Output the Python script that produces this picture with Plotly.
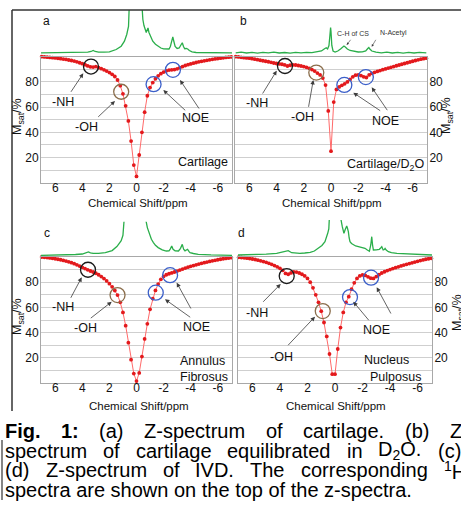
import re
import plotly.graph_objects as go

W, H = 461, 508
FONT = "Liberation Sans, Arial, sans-serif"

# ---------------- data ----------------
OFFSETS = [7.0, 6.8, 6.6, 6.4, 6.2, 6.0, 5.8, 5.6, 5.4, 5.2, 5.0, 4.8, 4.6, 4.4, 4.2, 4.0,
           3.8, 3.6, 3.4, 3.2, 3.0, 2.8, 2.6, 2.4, 2.2, 2.0, 1.8, 1.6, 1.4, 1.2, 1.0, 0.8,
           0.6, 0.4, 0.2, 0.0, -0.2, -0.4, -0.6, -0.8, -1.0, -1.2, -1.4, -1.6, -1.8, -2.0,
           -2.2, -2.4, -2.6, -2.8, -3.0, -3.2, -3.4, -3.6, -3.8, -4.0, -4.2, -4.4, -4.6,
           -4.8, -5.0, -5.2, -5.4, -5.6, -5.8, -6.0, -6.2, -6.4, -6.6, -6.8, -7.0]

Z_A = [100, 99.8, 99.6, 99.4, 99.2, 99.0, 98.7, 98.4, 98.1, 97.8, 97.4, 97.0, 96.5, 95.9,
       95.2, 94.5, 93.6, 92.7, 92.0, 91.8, 92.2, 91.4, 90.5, 89.6, 88.6, 87.4, 86.0, 84.3,
       81.5, 77.0, 70.5, 61.0, 49.0, 33.0, 14.0, 5.0, 22.0, 40.0, 56.0, 69.0, 75.5, 79.5,
       82.5, 84.8, 86.5, 87.8, 88.8, 89.4, 89.6, 89.8, 90.4, 91.3, 92.2, 93.0, 93.7, 94.3,
       94.9, 95.4, 95.9, 96.3, 96.7, 97.1, 97.5, 97.9, 98.2, 98.5, 98.8, 99.1, 99.4, 99.6, 99.8]

Z_B = [100, 99.8, 99.5, 99.2, 99.0, 98.8, 98.4, 98.0, 97.6, 97.2, 96.8, 96.4, 96.0, 95.5,
       95.0, 94.6, 94.3, 94.0, 93.5, 92.6, 93.2, 93.5, 93.4, 93.0, 92.6, 92.2, 91.6, 90.8,
       89.8, 88.6, 87.0, 85.5, 83.0, 77.5, 57.0, 25.0, 64.0, 74.0, 76.0, 77.3, 78.5, 80.0,
       82.0, 84.0, 85.3, 85.6, 85.0, 84.0, 83.5, 85.5, 86.8, 87.6, 88.3, 89.0, 89.7, 90.3,
       91.0, 91.6, 92.2, 92.8, 93.4, 94.0, 94.6, 95.2, 95.8, 96.4, 97.0, 97.5, 98.0, 98.4, 98.8]

Z_C = [100, 99.8, 99.6, 99.3, 99.0, 98.6, 98.2, 97.8, 97.3, 96.8, 96.2, 95.5, 94.7, 93.8,
       92.8, 91.8, 90.8, 89.8, 88.9, 88.1, 87.1, 85.9, 84.5, 82.9, 81.0, 78.8, 76.3, 73.4,
       69.8, 64.0, 56.0, 45.5, 32.0, 18.5, 7.5, 1.5, 8.0, 21.0, 35.0, 47.0, 58.5, 67.0,
       73.5, 78.5, 82.3, 84.6, 85.9, 86.7, 87.4, 88.1, 88.8, 89.6, 90.4, 91.2, 91.9, 92.6,
       93.2, 93.8, 94.4, 95.0, 95.5, 96.0, 96.5, 97.0, 97.4, 97.8, 98.2, 98.6, 98.9, 99.2, 99.5]

Z_D = [99.8, 99.6, 99.4, 99.1, 98.8, 98.4, 98.0, 97.5, 97.0, 96.4, 95.8, 95.0, 94.2, 93.2,
       92.2, 91.0, 89.4, 87.0, 86.3, 87.4, 88.2, 88.0, 87.3, 86.3, 85.0, 83.0, 80.0, 75.5,
       70.0, 64.0, 57.0, 48.0, 37.0, 23.0, 7.0, 7.0, 27.0, 44.0, 56.0, 64.0, 68.5, 74.5,
       79.5, 83.0, 85.0, 85.8, 85.4, 84.3, 83.2, 83.0, 84.5, 86.0, 87.3, 88.3, 89.2, 90.0,
       90.8, 91.5, 92.2, 92.9, 93.6, 94.2, 94.8, 95.4, 96.0, 96.6, 97.2, 97.7, 98.2, 98.6, 99.0]

# 1H NMR spectra (ppm, relative intensity)
NMR_A_PPM = [7.05, 6.0, 5.0, 4.2, 3.6, 3.35, 3.2, 3.05, 2.8, 2.4, 2.0, 1.5, 1.13, 0.89, 0.72,
             0.59, 0.52, 0.45, 0.3, 0.15, 0.0, -0.15, -0.3, -0.4, -0.47, -0.55, -0.65, -0.72,
             -0.8, -0.85, -0.92, -1.0, -1.1, -1.2, -1.4, -1.6, -1.8, -2.0, -2.2, -2.4, -2.5,
             -2.6, -2.68, -2.76, -2.85, -3.0, -3.15, -3.3, -3.38, -3.47, -3.56, -3.68, -3.78,
             -3.9, -4.1, -4.4, -5.0, -6.0, -7.05]
NMR_A_INT = [0.7, 0.7, 0.8, 1.0, 1.3, 2.0, 3.0, 2.0, 1.3, 1.4, 1.7, 4.0, 7.3, 12.3, 19.0,
             27.0, 40.0, 60.0, 90.0, 150.0, 250.0, 150.0, 70.0, 44.0, 34.0, 28.0, 22.0, 21.0,
             24.0, 25.5, 21.0, 18.0, 15.0, 12.3, 9.2, 7.0, 5.5, 4.6, 4.2, 4.5, 7.0,
             12.0, 16.7, 12.0, 7.0, 5.0, 5.5, 9.0, 10.7, 7.0, 4.8, 5.0, 4.5,
             3.0, 1.6, 1.0, 0.8, 0.7, 0.7]

NMR_B_PPM = [7.0, 6.6, 6.2, 5.8, 5.4, 5.0, 4.6, 4.2, 3.8, 3.4, 3.0, 2.6, 2.2, 1.8, 1.4, 1.0,
             0.7, 0.5, 0.35, 0.25, 0.15, 0.08, 0.03, 0.0, -0.06, -0.15, -0.3, -0.5, -0.7,
             -0.85, -0.95, -1.05, -1.2, -1.4, -1.7, -2.0, -2.3, -2.55, -2.7, -2.78, -2.85,
             -3.0, -3.3, -3.7, -4.1, -4.5, -4.9, -5.3, -5.7, -6.1, -6.5, -7.0]
NMR_B_INT = [0.7, 1.3, 0.5, 1.2, 0.4, 1.1, 0.6, 1.3, 0.5, 1.0, 0.4, 1.2, 0.6, 1.2, 0.8, 1.5,
             2.5, 4.5, 5.7, 4.5, 8.0, 18.0, 26.0, 22.0, 8.0, 2.5, 1.5, 2.5, 4.5,
             6.5, 7.5, 6.5, 4.5, 3.0, 2.0, 1.5, 1.6, 2.5, 5.0, 6.0, 4.5,
             2.5, 1.3, 0.6, 1.3, 0.5, 1.2, 0.4, 1.1, 0.5, 1.2, 0.6]

NMR_C_PPM = [7.05, 6.0, 5.2, 4.5, 4.0, 3.75, 3.55, 3.4, 3.2, 2.8, 2.3, 1.8, 1.6, 1.45, 1.3,
             1.13, 1.0, 0.9, 0.83, 0.76, 0.6, 0.3, 0.0, -0.3, -0.6, -0.71, -0.8, -0.9, -1.0,
             -1.1, -1.25, -1.4, -1.6, -1.9, -2.2, -2.4, -2.5, -2.6, -2.7, -2.85, -3.1, -3.25,
             -3.38, -3.48, -3.58, -3.68, -3.77, -3.87, -3.95, -4.2, -4.56, -5.5, -6.8, -7.05]
NMR_C_INT = [0.0, 0.2, 0.3, 0.8, 1.3, 2.0, 3.3, 2.5, 2.0, 2.0, 2.7, 4.7, 6.5, 8.7, 11.5,
             14.7, 20.0, 25.0, 28.3, 34.0, 50.0, 100.0, 200.0, 100.0, 50.0, 34.0, 27.7, 23.0, 19.3,
             16.0, 12.7, 10.0, 7.7, 5.5, 4.3, 4.5, 6.5, 9.3, 6.0, 4.5, 4.3, 7.0,
             11.0, 6.0, 4.5, 5.0, 6.0, 4.0, 2.7, 1.8, 1.0, 0.4, 0.0, 0.0]

NMR_D_PPM = [7.05, 6.0, 5.0, 4.24, 3.9, 3.64, 3.4, 3.15, 2.9, 2.55, 2.2, 1.8, 1.5, 1.2, 0.95,
             0.73, 0.6, 0.53, 0.45, 0.41, 0.34, 0.2, 0.0, -0.2, -0.4, -0.44, -0.53, -0.6,
             -0.65, -0.73, -0.8, -0.85, -0.9, -0.97, -1.03, -1.09, -1.2, -1.33, -1.5, -1.7,
             -2.0, -2.18, -2.35, -2.5, -2.6, -2.67, -2.73, -2.79, -3.0, -3.22, -3.32, -3.4,
             -3.5, -3.58, -3.64, -3.72, -3.88, -4.1, -4.5, -5.5, -6.9, -7.05]
NMR_D_INT = [0.0, 0.3, 0.8, 1.7, 2.5, 3.3, 4.3, 2.3, 2.0, 1.7, 2.0, 2.7, 4.0, 6.7, 9.5,
             13.3, 18.0, 21.7, 26.0, 28.3, 37.0, 70.0, 150.0, 90.0, 40.0, 35.0, 28.3, 23.0,
             21.7, 25.0, 28.0, 29.0, 27.0, 23.3, 17.0, 13.3, 11.5, 10.0, 9.0, 8.3,
             7.3, 6.7, 5.0, 3.8, 10.0, 18.3, 10.0, 5.0, 5.2, 5.7, 7.0, 8.3,
             5.0, 5.5, 6.7, 5.0, 3.3, 2.3, 1.7, 0.8, 0.0, 0.0]

X_TICKS = [6, 4, 2, 0, -2, -4, -6]
X_TICKTEXT = ["6", "4", "2", "0", "-2", "-4", "-6"]
Y_TICKS = [10, 20, 30, 40, 50, 60, 70, 80, 90, 100]
Y_TICKTEXT = ["", "20", "", "40", "", "60", "", "80", "", ""]

# circled features (ppm, Msat %) per panel: NH, OH, NOE1, NOE2
CIRCLES_A = [(3.36, 92.2), (1.13, 72.2), (-1.26, 78.2), (-2.69, 89.6)]
CIRCLES_B = [(3.38, 92.6), (1.08, 87.4), (-0.98, 77.6), (-2.56, 83.8)]
CIRCLES_C = [(3.58, 89.9), (1.40, 69.8), (-1.42, 71.7), (-2.48, 85.6)]
CIRCLES_D = [(3.51, 84.9), (0.89, 57.1), (-1.09, 68.2), (-2.62, 83.6)]
CIRCLE_COLORS = ["#1a1a1a", "#8a6d4b", "#3b5fc9", "#3b5fc9"]

# ---------------- helpers ----------------
def fx(x):
    return x / W


def fy(y):
    return 1 - y / H


RED_LINE = "#ff6a6a"
RED_DOT = "#e3191c"
GREEN = "#2aae4a"
GRID = "#cfcfcf"
AXLINE = "#a8a8a8"
TXT = "#111111"

PANELS = [
    dict(z=Z_A, gx=NMR_A_PPM, gy=NMR_A_INT, circ=CIRCLES_A, xdom=(41, 232), ydom=(56.7, 182.7),
         gdom=(10, 56.7), grange=(-3.2, 43.5), side="left"),
    dict(z=Z_B, gx=NMR_B_PPM, gy=NMR_B_INT, circ=CIRCLES_B, xdom=(235, 427), ydom=(56.7, 182.7),
         gdom=(10, 56.7), grange=(-3.2, 43.5), side="right"),
    dict(z=Z_C, gx=NMR_C_PPM, gy=NMR_C_INT, circ=CIRCLES_C, xdom=(41, 232), ydom=(257, 383),
         gdom=(221.7, 257), grange=(-1.7, 33.6), side="left"),
    dict(z=Z_D, gx=NMR_D_PPM, gy=NMR_D_INT, circ=CIRCLES_D, xdom=(238, 432), ydom=(257, 383),
         gdom=(220, 257), grange=(-2.0, 35.0), side="right"),
]

fig = go.Figure()
layout = {}
shapes = []
annotations = []

for i, p in enumerate(PANELS):
    n = i + 1
    g = i + 5
    xa = "xaxis" if n == 1 else f"xaxis{n}"
    ya = "yaxis" if n == 1 else f"yaxis{n}"
    xr = "x" if n == 1 else f"x{n}"
    yr = "y" if n == 1 else f"y{n}"
    layout[xa] = dict(domain=[fx(p["xdom"][0]), fx(p["xdom"][1])], range=[7.05, -7.05],
                      anchor=yr, tickvals=X_TICKS, ticktext=X_TICKTEXT, showgrid=False,
                      zeroline=False, showline=True, linecolor=AXLINE, linewidth=1,
                      mirror=True, ticks="", ticklabelstandoff=-6,
                      tickfont=dict(size=12, color=TXT, family=FONT))
    layout[ya] = dict(domain=[fy(p["ydom"][1]), fy(p["ydom"][0])], range=[0, 100],
                      anchor=xr, side=p["side"], tickvals=Y_TICKS, ticktext=Y_TICKTEXT,
                      showgrid=True, gridcolor=GRID, gridwidth=1, zeroline=False,
                      showline=True, linecolor=AXLINE, linewidth=1, mirror=True, ticks="",
                      ticklabelstandoff=-1,
                      tickfont=dict(size=12, color=TXT, family=FONT))
    layout[f"xaxis{g}"] = dict(domain=[fx(p["xdom"][0]), fx(p["xdom"][1])], range=[7.05, -7.05],
                               anchor=f"y{g}", visible=False)
    layout[f"yaxis{g}"] = dict(domain=[fy(p["gdom"][1]), fy(p["gdom"][0])], range=list(p["grange"]),
                               anchor=f"x{g}", visible=False)

    fig.add_trace(go.Scatter(x=p["gx"], y=p["gy"], mode="lines", xaxis=f"x{g}", yaxis=f"y{g}",
                             line=dict(color=GREEN, width=1.3), showlegend=False, hoverinfo="skip"))
    fig.add_trace(go.Scatter(x=OFFSETS, y=p["z"], mode="lines+markers", xaxis=xr, yaxis=yr,
                             line=dict(color=RED_LINE, width=1),
                             marker=dict(color=RED_DOT, size=3.8, symbol="circle"),
                             showlegend=False, hoverinfo="skip", cliponaxis=False))
    for (cx, cy), col in zip(p["circ"], CIRCLE_COLORS):
        shapes.append(dict(type="circle", xref=xr, yref=yr, xsizemode="pixel", ysizemode="pixel",
                           xanchor=cx, yanchor=cy, x0=-7.5, x1=7.5, y0=-7.5, y1=7.5,
                           line=dict(color=col, width=1.3), layer="above"))


def label(x, y, text, size=12.5, color=TXT, xanchor="center", angle=0):
    annotations.append(dict(x=fx(x), y=fy(y), xref="paper", yref="paper", text=text,
                            showarrow=False, xanchor=xanchor, yanchor="middle", textangle=angle,
                            font=dict(size=size, color=color, family=FONT), borderpad=0))


def arrow(tx, ty, hx, hy, width=0.8, size=1.1, color="#3c3c3c"):
    annotations.append(dict(x=fx(hx), y=fy(hy), xref="paper", yref="paper", text="",
                            showarrow=True, axref="pixel", ayref="pixel", ax=tx - hx, ay=ty - hy,
                            arrowhead=2, arrowsize=size, arrowwidth=width, arrowcolor=color,
                            standoff=0, startstandoff=0))


MSAT = "M<sub>sat</sub>/%"
XTITLE = "Chemical Shift/ppm"

# panel a
label(46.7, 20.7, "a", 12)
label(62.7, 101.7, "-NH"); label(86.7, 126.7, "-OH"); label(195, 118.3, "NOE")
label(203.3, 161.7, "Cartilage")
arrow(70, 93.3, 83.3, 73.3); arrow(96.7, 118.3, 115, 101)
arrow(186.7, 111.7, 163.3, 90); arrow(200, 110, 180, 80)
label(18, 117, MSAT, 12.5, angle=-90)
label(138, 203.5, XTITLE, 11.5)

# panel b
label(243.3, 20.7, "b", 12)
label(256.7, 103.3, "-NH"); label(302.7, 116.7, "-OH"); label(385, 120.7, "NOE")
label(385, 165, "Cartilage/D<sub>2</sub>O")
label(353.3, 33.3, "C-H of CS", 7, "#333333"); label(393.3, 33.3, "N-Acetyl", 7, "#333333")
arrow(261.7, 95, 276.7, 70.7); arrow(308.3, 108.3, 313.3, 80)
arrow(381.7, 111.7, 353.3, 92.7); arrow(388.3, 111.7, 371.7, 87.3)
arrow(351.7, 38.3, 346.7, 45, 0.6, 0.8); arrow(376.7, 38.3, 371.7, 46.7, 0.6, 0.8)
label(447, 116, MSAT, 12.5, angle=-90)
label(332, 203.5, XTITLE, 11.5)

# panel c
label(46.7, 233.3, "c", 12)
label(62.7, 307.3, "-NH"); label(85, 328.3, "-OH"); label(196.7, 326.7, "NOE")
label(202.7, 360.7, "Annulus"); label(204, 376.7, "Fibrosus")
arrow(70, 299.3, 81.7, 277.3); arrow(89.3, 319.3, 111.7, 301.7)
arrow(191.7, 318.3, 165, 299.3); arrow(191.7, 310, 176.7, 282.7)
label(18, 317, MSAT, 12.5, angle=-90)
label(139, 405.5, XTITLE, 11.5)

# panel d
label(241.7, 232.7, "d", 12)
label(256.7, 312.7, "-NH"); label(281.7, 356.7, "-OH"); label(376.7, 330, "NOE")
label(386.7, 360, "Nucleus"); label(395, 376.7, "Pulposus")
arrow(261.7, 303.3, 280.7, 284); arrow(286.7, 346.7, 315, 316.7)
arrow(370, 321.7, 353.3, 301.7); arrow(391.7, 315, 376.7, 287.3)
label(458, 313, MSAT, 12.5, angle=-90)
label(336, 405.5, XTITLE, 11.5)

# ---------------- caption (justified) ----------------
REG = {' ': 278, 'a': 556, 'b': 556, 'c': 500, 'd': 556, 'e': 556, 'f': 278, 'g': 556, 'h': 556,
       'i': 222, 'j': 222, 'k': 500, 'l': 222, 'm': 833, 'n': 556, 'o': 556, 'p': 556, 'q': 556,
       'r': 333, 's': 500, 't': 278, 'u': 556, 'v': 500, 'w': 722, 'x': 500, 'y': 500, 'z': 500,
       'D': 722, 'F': 611, 'H': 722, 'I': 278, 'O': 778, 'T': 611, 'V': 667, 'Z': 611,
       '(': 333, ')': 333, '.': 278, ':': 278, '-': 333, '1': 556, '2': 556}
BOLD = {'F': 611, 'i': 278, 'g': 611, '.': 278, '1': 556, ':': 333}


def text_units(s):
    total, scale, bold = 0.0, 1.0, False
    for tok in re.split(r'(<[^>]+>)', s):
        if tok.startswith('<'):
            closing = tok.startswith('</')
            t = tok.strip('<>/').lower()
            if t in ('sub', 'sup'):
                scale = 1.0 if closing else 0.7
            elif t == 'b':
                bold = not closing
            continue
        for ch in tok:
            total += (BOLD.get(ch, REG[ch]) if bold else REG[ch]) * scale
    return total / 1000.0


CAP_SIZE = 20
CAP_LEFT = 4
CAPTION_LINES = [
    (["<b>Fig.</b>", "<b>1:</b>", "(a)", "Z-spectrum", "of", "cartilage.", "(b)", "Z"], 461, 431),
    (["spectrum", "of", "cartilage", "equilibrated", "in", "D<sub>2</sub>O.", "(c)"], 460, 450.7),
    (["(d)", "Z-spectrum", "of", "IVD.", "The", "corresponding", "<sup>1</sup>H"], 465, 470.3),
]
for words, right, yc in CAPTION_LINES:
    widths = [text_units(w) * CAP_SIZE for w in words]
    gap = (right - CAP_LEFT - sum(widths)) / (len(words) - 1)
    x = CAP_LEFT
    for w, wd in zip(words, widths):
        label(x, yc, w, CAP_SIZE, "#000000", xanchor="left")
        x += wd + gap
label(CAP_LEFT, 490, "spectra are shown on the top of the z-spectra.", CAP_SIZE, "#000000", xanchor="left")

# frame lines
shapes.append(dict(type="line", xref="paper", yref="paper", x0=fx(12), x1=fx(461), y0=fy(10), y1=fy(10),
                   line=dict(color="#333333", width=1.5)))
shapes.append(dict(type="line", xref="paper", yref="paper", x0=fx(12), x1=fx(12), y0=fy(10), y1=fy(411),
                   line=dict(color="#333333", width=1.5)))
shapes.append(dict(type="line", xref="paper", yref="paper", x0=fx(2), x1=fx(2), y0=fy(440), y1=fy(500),
                   line=dict(color="#333333", width=1.2)))

fig.update_layout(width=W, height=H, margin=dict(l=0, r=0, t=0, b=0),
                  paper_bgcolor="white", plot_bgcolor="white", showlegend=False,
                  font=dict(family=FONT, color=TXT), shapes=shapes, annotations=annotations,
                  **layout)

fig.write_html("out.html", config={"displayModeBar": False},
               post_script="document.body.style.margin='0px';document.body.style.overflow='hidden';")
